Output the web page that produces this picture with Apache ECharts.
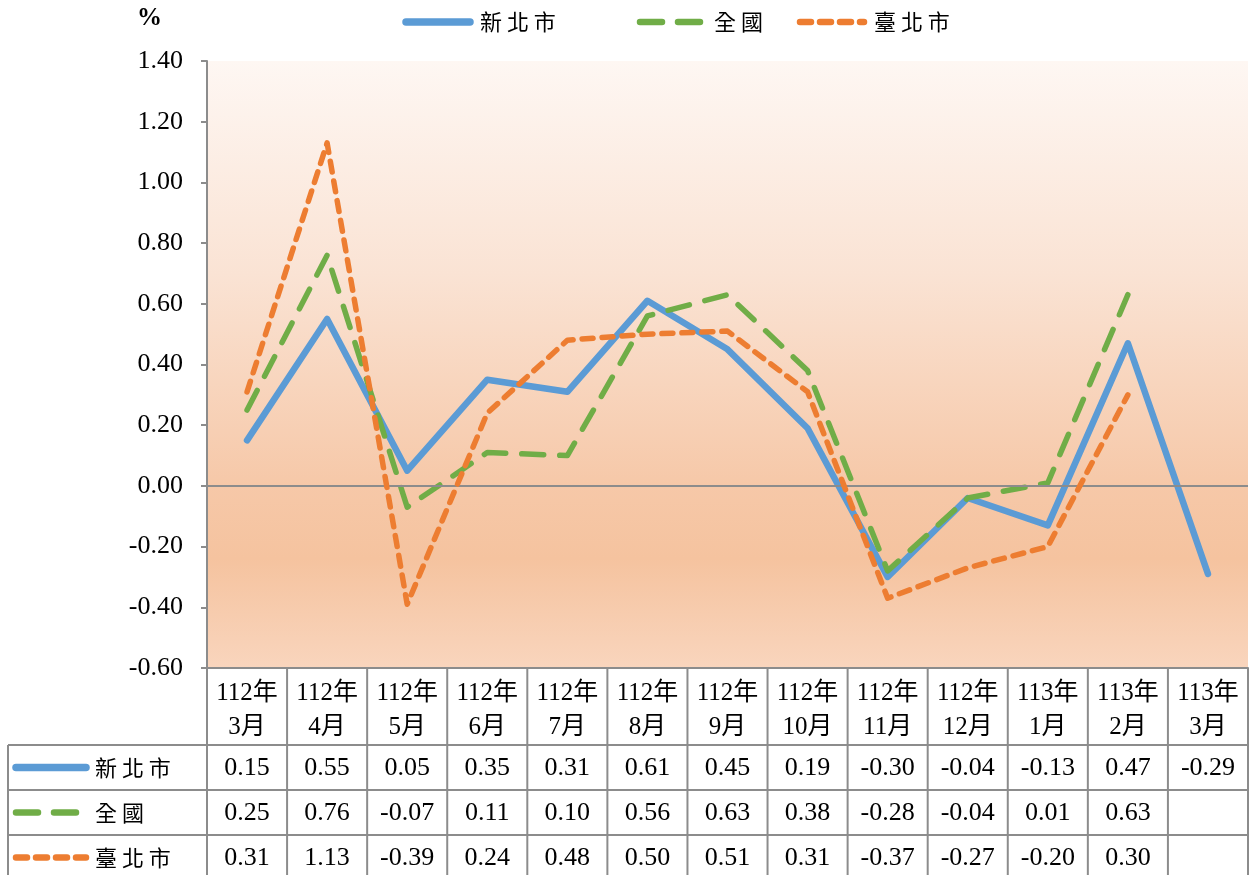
<!DOCTYPE html>
<html><head><meta charset="utf-8">
<script src="https://cdn.jsdelivr.net/npm/echarts@6/dist/echarts.min.js"></script>
<style>html,body{margin:0;padding:0;background:#fff}#c{width:1250px;height:875px}</style>
</head><body><div id="c"></div>
<script>
const categories = ['112年\n3月','112年\n4月','112年\n5月','112年\n6月','112年\n7月','112年\n8月','112年\n9月','112年\n10月','112年\n11月','112年\n12月','113年\n1月','113年\n2月','113年\n3月'];
const seriesNames = ['新北市','全國','臺北市'];
const newTaipei = [0.15,0.55,0.05,0.35,0.31,0.61,0.45,0.19,-0.30,-0.04,-0.13,0.47,-0.29];
const national = [0.25,0.76,-0.07,0.11,0.10,0.56,0.63,0.38,-0.28,-0.04,0.01,0.63,null];
const taipei = [0.31,1.13,-0.39,0.24,0.48,0.50,0.51,0.31,-0.37,-0.27,-0.20,0.30,null];
const yTicks = {min:-0.6, max:1.4, interval:0.2};

const FONT = "'Liberation Serif','Noto Sans CJK TC',serif";
const CJK = "'Noto Sans CJK TC',sans-serif";
const colors = ['#5b9bd5','#70ad47','#ed7d31'];
const lineStyles = [
  {width:6.5, type:'solid', cap:'round', join:'round'},
  {width:5.5, type:[22,16], cap:'round', join:'round'},
  {width:5.5, type:[11,9], cap:'round', join:'round'}
];
const allData = [newTaipei, national, taipei];
const GRID = {left:207, right:2, top:61, bottom:207};
const GRAY = '#8c8c8c';

const chart = echarts.init(document.getElementById('c'));
const option = {
  animation:false,
  backgroundColor:'#fff',
  grid:{left:GRID.left, right:GRID.right, top:GRID.top, bottom:GRID.bottom, show:true, borderWidth:0,
    backgroundColor:{type:'linear',x:0,y:0,x2:0,y2:1,colorStops:[
      {offset:0,color:'#fef7f3'},{offset:0.35,color:'#fae3d4'},{offset:0.7,color:'#f6c8a8'},
      {offset:0.82,color:'#f5c39f'},{offset:1,color:'#f9d5bd'}]}},
  legend:{show:false},
  xAxis:{type:'category', data:categories, boundaryGap:true,
    axisLine:{onZero:false, lineStyle:{color:GRAY, width:2}},
    axisTick:{show:false},
    axisLabel:{interval:0, fontFamily:FONT, fontSize:25, color:'#000', lineHeight:34, margin:8},
    splitLine:{show:false}},
  yAxis:{type:'value', min:yTicks.min, max:yTicks.max, interval:yTicks.interval,
    axisLine:{show:true, lineStyle:{color:GRAY, width:2}},
    axisTick:{show:true, inside:false, length:6, lineStyle:{color:GRAY, width:2}},
    axisLabel:{formatter:v=>v.toFixed(2), fontFamily:FONT, fontSize:26, color:'#000', margin:24},
    splitLine:{show:false}},
  series: seriesNames.map((n,i)=>({
    name:n, type:'line', data:allData[i], showSymbol:false, symbol:'none',
    lineStyle:Object.assign({color:colors[i]}, lineStyles[i]),
    itemStyle:{color:colors[i]},
    z: i===0?3:(i===1?4:5),
    markLine: i===0 ? {silent:true, symbol:'none', label:{show:false},
      lineStyle:{color:GRAY, width:2, type:'solid'}, data:[{yAxis:0}]} : undefined
  }))
};
chart.setOption(option);

const g = [];
g.push({type:'text', left:137, top:6, style:{text:'%', font:'bold 25px '+FONT, fill:'#000'}});

function legendIcon(x, y, w, i){
  g.push({type:'line', shape:{x1:x, y1:y, x2:x+w, y2:y},
    style:{stroke:colors[i], lineWidth:lineStyles[i].width+1, lineDash:Array.isArray(lineStyles[i].type)?lineStyles[i].type:null, lineCap:'round'}});
}
const legX = [406, 640, 800];
seriesNames.forEach((n,i)=>{
  legendIcon(legX[i], 22, 64, i);
  g.push({type:'text', x:legX[i]+74, y:22, style:{text:n.split('').join(' '), font:'22px '+CJK, fill:'#000', textVerticalAlign:'middle'}});
});

const H = 875;
const rowTops = [745, 790, 835];
const rowH = 45;
const xs = categories.map((c,i)=>chart.convertToPixel({xAxisIndex:0}, i));
const half = (xs[1]-xs[0])/2;
const lineSt = {stroke:GRAY, lineWidth:2};
for (let i=0;i<=categories.length;i++){
  const x = i<categories.length ? xs[i]-half : xs[categories.length-1]+half;
  g.push({type:'line', shape:{x1:x, y1:668, x2:x, y2:H}, style:lineSt, z:10});
}
rowTops.forEach(y=>{
  g.push({type:'line', shape:{x1:8, y1:y, x2:1248, y2:y}, style:lineSt, z:10});
});
g.push({type:'line', shape:{x1:8, y1:745, x2:8, y2:H}, style:lineSt, z:10});
seriesNames.forEach((n,i)=>{
  const cy = rowTops[i]+rowH/2;
  legendIcon(16, cy, 70, i);
  g.push({type:'text', x:95, y:cy, style:{text:n.split('').join(' '), font:'22px '+CJK, fill:'#000', textVerticalAlign:'middle'}});
  allData[i].forEach((v,j)=>{
    if (v===null) return;
    g.push({type:'text', x:xs[j], y:cy+1, style:{text:v.toFixed(2), font:'26px '+FONT, fill:'#000', textAlign:'center', textVerticalAlign:'middle'}});
  });
});
chart.setOption({graphic:g});
</script>
</body></html>
